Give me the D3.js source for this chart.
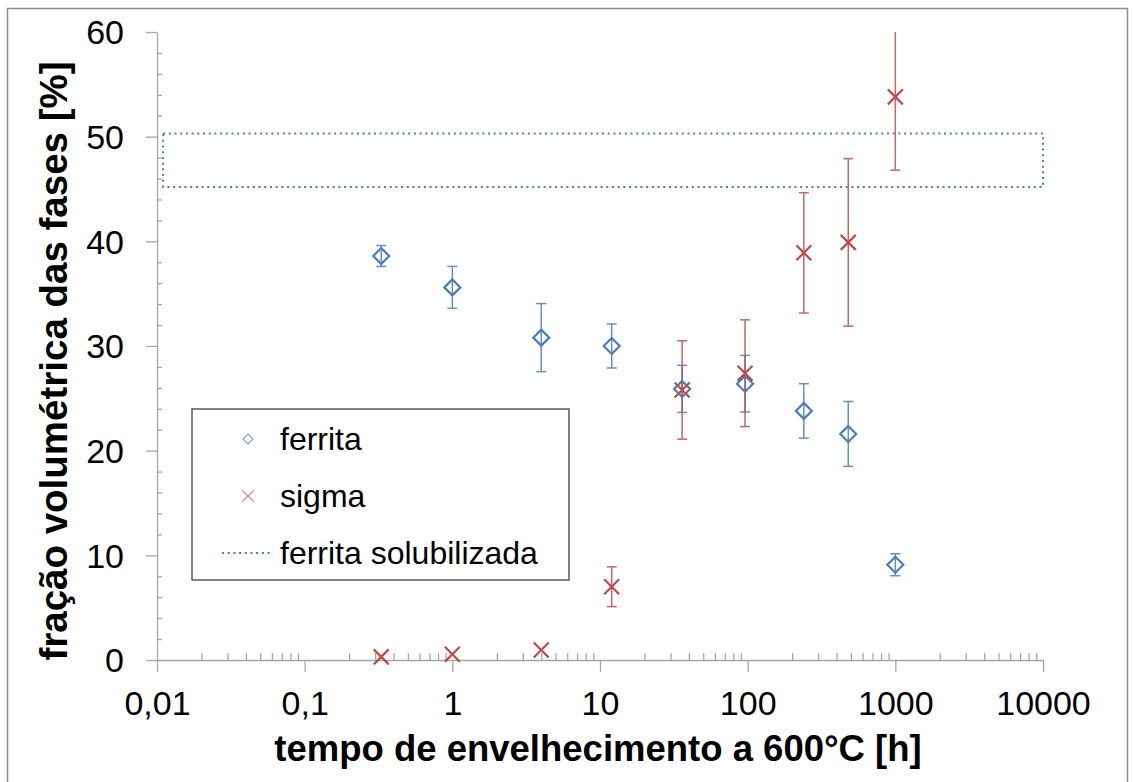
<!DOCTYPE html>
<html>
<head>
<meta charset="utf-8">
<script src="https://cdn.jsdelivr.net/npm/d3@7"></script>
<style>
  body { margin: 0; background: #fff; }
  svg { display: block; font-family: "Liberation Sans", Arial, sans-serif; }
  .axis path, .axis line { stroke: #a6a6a6; stroke-width: 1.3; }
  .axis text { fill: #000; }
</style>
</head>
<body>
<div id="chart"></div>
<script>
// tempo de envelhecimento [h]
const times = [0.33, 1, 4, 12, 36, 96, 240, 480, 1000]
const ferrita = [38.6, 35.6, 30.8, 30.0, 25.9, 26.4, 23.8, 21.6, 9.1]
const ferritaErr = [1.0, 2.0, 3.25, 2.1, 2.25, 2.7, 2.6, 3.1, 1.05]
const sigma = [0.3, 0.55, 0.95, 7.0, 25.8, 27.4, 38.9, 39.9, 53.8]
const sigmaErr = [0, 0, 0, 1.9, 4.7, 5.1, 5.75, 8.0, 7.0]
// faixa da ferrita solubilizada
const soluX = [0.011, 10000]
const soluY = [45.2, 50.3]

const xTicks = [0.01, 0.1, 1, 10, 100, 1000, 10000]
const xTickLabels = ['0,01', '0,1', '1', '10', '100', '1000', '10000']
const yTicks = [0, 10, 20, 30, 40, 50, 60]

const blue = '#4a7ebb', red = '#be4b48'

const width = 1134, height = 782

const x = d3.scaleLog().domain([0.01, 10000]).range([157, 1043])
const y = d3.scaleLinear().domain([0, 60]).range([660, 32])

const svg = d3.select('#chart').append('svg')
    .attr('width', width)
    .attr('height', height)

// outer frame
svg.append('rect')
    .attr('x', 7.5).attr('y', 8.5)
    .attr('width', 1120).attr('height', 790)
    .attr('fill', 'none')
    .attr('stroke', '#8c8c8c')
    .attr('stroke-width', 1.5)

// minor ticks
const xMinor = []
for (let d = 0.01; d < 10000; d *= 10)
    for (let k = 2; k <= 9; k++) xMinor.push(+(d * k).toPrecision(3))
const yMinor = d3.range(0, 61, 2).filter(v => v % 10 !== 0)

svg.append('g')
    .attr('class', 'axis')
    .attr('transform', `translate(0,${y(0)})`)
    .call(d3.axisTop(x).tickValues(xMinor).tickSize(7).tickFormat(''))
    .call(g => g.select('.domain').remove())

svg.append('g')
    .attr('class', 'axis')
    .attr('transform', `translate(${x(0.01)},0)`)
    .call(d3.axisRight(y).tickValues(yMinor).tickSize(5).tickFormat(''))
    .call(g => g.select('.domain').remove())

// x axis
const xAxis = svg.append('g')
    .attr('class', 'axis')
    .attr('transform', `translate(0,${y(0)})`)
    .call(d3.axisBottom(x).tickValues(xTicks).tickSizeInner(12).tickSizeOuter(0)
        .tickFormat((d, i) => xTickLabels[i]))
xAxis.selectAll('text')
    .attr('y', 55).attr('dy', null)
    .style('font-size', '34px')

// y axis
const yAxis = svg.append('g')
    .attr('class', 'axis')
    .attr('transform', `translate(${x(0.01)},0)`)
    .call(d3.axisLeft(y).tickValues(yTicks).tickSizeInner(11).tickSizeOuter(0))
yAxis.selectAll('text')
    .attr('x', -33).attr('dy', '0.35em')
    .style('font-size', '34px')

// titles
svg.append('text')
    .attr('x', 598).attr('y', 761)
    .attr('text-anchor', 'middle')
    .style('font-size', '36.5px').style('font-weight', 'bold')
    .text('tempo de envelhecimento a 600°C [h]')

svg.append('text')
    .attr('transform', 'translate(67,361) rotate(-90)')
    .attr('text-anchor', 'middle')
    .style('font-size', '38.5px').style('font-weight', 'bold')
    .text('fração volumétrica das fases [%]')

// ferrita solubilizada band
svg.append('rect')
    .attr('x', x(soluX[0])).attr('y', y(soluY[1]))
    .attr('width', x(soluX[1]) - x(soluX[0]))
    .attr('height', y(soluY[0]) - y(soluY[1]))
    .attr('fill', 'none')
    .attr('stroke', blue)
    .attr('stroke-width', 2)
    .attr('stroke-dasharray', '2,3.7')

// error bars
const drawErrors = (vals, errs, color) => {
    const g = svg.append('g')
        .attr('stroke', color)
        .attr('stroke-width', 1.5)
        .attr('opacity', 0.85)
    vals.forEach((v, i) => {
        if (!errs[i]) return
        const cx = x(times[i])
        const hi = Math.min(60, v + errs[i]), lo = v - errs[i]
        g.append('line').attr('x1', cx).attr('x2', cx).attr('y1', y(hi)).attr('y2', y(lo))
        if (v + errs[i] <= 60)
            g.append('line').attr('x1', cx - 5).attr('x2', cx + 5).attr('y1', y(hi)).attr('y2', y(hi))
        g.append('line').attr('x1', cx - 5).attr('x2', cx + 5).attr('y1', y(lo)).attr('y2', y(lo))
    })
}
drawErrors(ferrita, ferritaErr, blue)
drawErrors(sigma, sigmaErr, red)

// markers
const diamond = (s) => `M0,${-s}L${s},0L0,${s}L${-s},0Z`
const cross = (s) => `M${-s},${-s}L${s},${s}M${-s},${s}L${s},${-s}`

svg.append('g').selectAll('path')
    .data(ferrita)
    .join('path')
    .attr('transform', (d, i) => `translate(${x(times[i])},${y(d)})`)
    .attr('d', diamond(8))
    .attr('fill', 'none')
    .attr('stroke', blue)
    .attr('stroke-width', 2.2)

svg.append('g').selectAll('path')
    .data(sigma)
    .join('path')
    .attr('transform', (d, i) => `translate(${x(times[i])},${y(d)})`)
    .attr('d', cross(7.5))
    .attr('fill', 'none')
    .attr('stroke', red)
    .attr('stroke-width', 2.2)

// legend
const legend = svg.append('g')
legend.append('rect')
    .attr('x', 192).attr('y', 409)
    .attr('width', 377).attr('height', 171)
    .attr('fill', '#fff')
    .attr('stroke', '#595959')
    .attr('stroke-width', 1.5)

const legendY = [439, 496, 553]
legend.append('path')
    .attr('transform', `translate(248,${legendY[0]})`)
    .attr('d', diamond(5))
    .attr('fill', 'none').attr('stroke', '#7ea6da').attr('stroke-width', 1.2)
legend.append('path')
    .attr('transform', `translate(248,${legendY[1]})`)
    .attr('d', cross(5.5))
    .attr('fill', 'none').attr('stroke', '#e08c8a').attr('stroke-width', 1.2)
legend.append('line')
    .attr('x1', 222).attr('x2', 270)
    .attr('y1', legendY[2]).attr('y2', legendY[2])
    .attr('stroke', blue).attr('stroke-width', 2)
    .attr('stroke-dasharray', '2,3.7')

legend.selectAll('text')
    .data(['ferrita', 'sigma', 'ferrita solubilizada'])
    .join('text')
    .attr('x', 280)
    .attr('y', (d, i) => legendY[i])
    .attr('dy', '0.35em')
    .style('font-size', '32px')
    .text(d => d)
</script>
</body>
</html>
